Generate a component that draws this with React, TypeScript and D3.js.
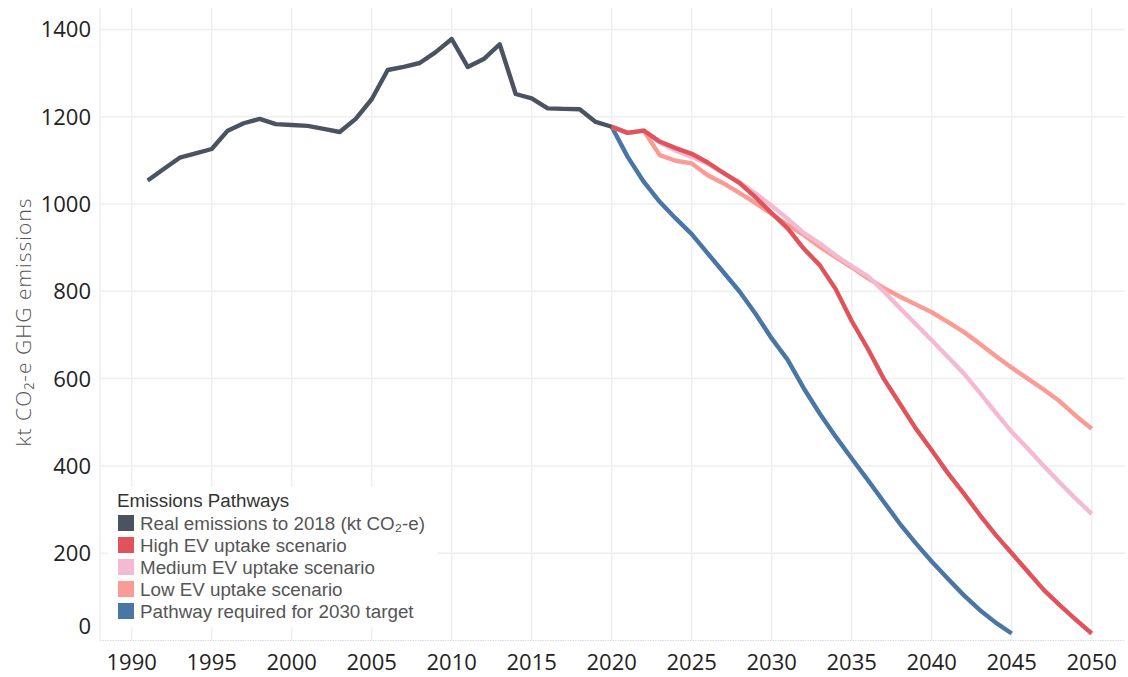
import React from "react";
import * as d3 from "d3";

// real emissions 1991-2020 (kt CO2-e)
const realYears = d3.range(1991, 2021);
const realValues = [
  1054, 1080, 1106, 1116, 1126, 1168, 1185, 1195, 1183, 1181, 1179, 1172, 1165, 1195, 1240,
  1307, 1314, 1323, 1348, 1378, 1314, 1332, 1366, 1252, 1242, 1219, 1218, 1217, 1188, 1177,
];

// scenarios 2020-2050
const scenarioYears = d3.range(2020, 2051);
const highValues = [
  1177, 1163, 1168, 1143, 1128, 1115, 1095, 1071, 1048, 1015, 979, 944, 898, 860, 805, 732,
  669, 600, 543, 486, 436, 384, 337, 288, 242, 200, 158, 116, 81, 48, 16,
];
const mediumValues = [
  1177, 1163, 1168, 1141, 1122, 1108, 1092, 1070, 1050, 1024, 996, 966, 934, 910, 882, 858,
  835, 800, 762, 725, 688, 650, 612, 568, 522, 478, 440, 400, 362, 325, 290,
];
const lowValues = [
  1177, 1163, 1168, 1112, 1099, 1093, 1066, 1047, 1025, 1002, 977, 952, 929, 902, 878, 855,
  830, 808, 788, 770, 752, 730, 707, 680, 652, 625, 600, 575, 548, 515, 485,
];

// pathway required for 2030 target, 2020-2045
const pathwayYears = d3.range(2020, 2046);
const pathwayValues = [
  1177, 1108, 1051, 1005, 967, 931, 887, 843, 799, 748, 692, 643, 578, 520, 467, 417, 368,
  318, 268, 223, 181, 142, 104, 70, 41, 16,
];

const xTicks = d3.range(1990, 2051, 5);
const yTicks = [0, 200, 400, 600, 800, 1000, 1200, 1400];

const legendTitle = "Emissions Pathways";
const legendLabels = [
  "Real emissions to 2018 (kt CO\u2082-e)",
  "High EV uptake scenario",
  "Medium EV uptake scenario",
  "Low EV uptake scenario",
  "Pathway required for 2030 target",
];
const colors = ["#4a5360", "#e0535a", "#f5bad3", "#fb9b95", "#4a76a5"];

const W = 1128;
const H = 677;

export default function App() {
  const x = d3.scaleLinear().domain([1988, 2052]).range([99.7, 1123.7]);
  const y = d3.scaleLinear().domain([0, 1400]).range([640.5, 29.4]);

  const line = d3
    .line<[number, number]>()
    .x((d) => x(d[0]))
    .y((d) => y(d[1]));

  const zip = (yrs: number[], vals: number[]) =>
    yrs.map((yr, i) => [yr, vals[i]] as [number, number]);

  // draw order: pathway, low, medium, high, real
  const series = [
    { pts: zip(pathwayYears, pathwayValues), color: colors[4] },
    { pts: zip(scenarioYears, lowValues), color: colors[3] },
    { pts: zip(scenarioYears, mediumValues), color: colors[2] },
    { pts: zip(scenarioYears, highValues), color: colors[1] },
    { pts: zip(realYears, realValues), color: colors[0] },
  ];

  const plotLeft = 100;
  const plotRight = 1125;
  const plotTop = 8;

  return (
    <svg
      width={W}
      height={H}
      style={{ position: "absolute", left: 0, top: 0, background: "#fff" }}
    >
      {/* grid */}
      <g>
        {yTicks
          .filter((t) => t > 0)
          .map((t) => (
            <line
              key={"h" + t}
              x1={plotLeft}
              x2={plotRight}
              y1={y(t)}
              y2={y(t)}
              stroke="#efefef"
              strokeWidth={1.5}
            />
          ))}
        <line x1={plotLeft} x2={plotLeft} y1={plotTop} y2={y(0)} stroke="#efefef" strokeWidth={1.5} />
        {xTicks.map((t) => (
          <line
            key={"v" + t}
            x1={x(t)}
            x2={x(t)}
            y1={plotTop}
            y2={y(0)}
            stroke="#efefef"
            strokeWidth={1.5}
          />
        ))}
        <line
          x1={plotLeft}
          x2={plotRight}
          y1={y(0)}
          y2={y(0)}
          stroke="#dcdcdc"
          strokeWidth={1}
          strokeDasharray="1.5,1"
        />
      </g>

      {/* lines */}
      <g fill="none" strokeWidth={4.4} strokeLinejoin="round">
        {series.map((s, i) => (
          <path key={i} d={line(s.pts) || ""} stroke={s.color} />
        ))}
      </g>

      {/* y axis labels */}
      <g fontFamily="'Open Sans', sans-serif" fontSize={22} fill="#222" textAnchor="end">
        {yTicks.map((t) => (
          <text key={t} x={91} y={y(t) - (t === 0 ? 14 : 0)} dy="0.36em">
            {t}
          </text>
        ))}
      </g>

      {/* x axis labels */}
      <g fontFamily="'Open Sans', sans-serif" fontSize={22} fill="#222" textAnchor="middle">
        {xTicks.map((t) => (
          <text key={t} x={x(t)} y={670}>
            {t}
          </text>
        ))}
      </g>

      {/* y title */}
      <text
        transform={`translate(31, 322) rotate(-90)`}
        textAnchor="middle"
        fontFamily="'Open Sans', sans-serif"
        fontWeight={300}
        fontSize={21}
        letterSpacing={1}
        fill="#555"
      >
        kt CO₂-e GHG emissions
      </text>

      {/* legend */}
      <g fontFamily="'Liberation Sans', Arial, sans-serif" fontSize={18.8}>
        <rect x={108} y={487} width={329} height={140} fill="#fff" />
        <text x={117} y={507} fill="#333">
          {legendTitle}
        </text>
        {legendLabels.map((lab, i) => (
          <g key={lab} transform={`translate(118, ${523 + i * 22})`}>
            <rect x={0} y={-8} width={16} height={16} fill={colors[i]} />
            <text x={22} y={0} dy="0.35em" fill="#555">
              {lab}
            </text>
          </g>
        ))}
      </g>
    </svg>
  );
}
